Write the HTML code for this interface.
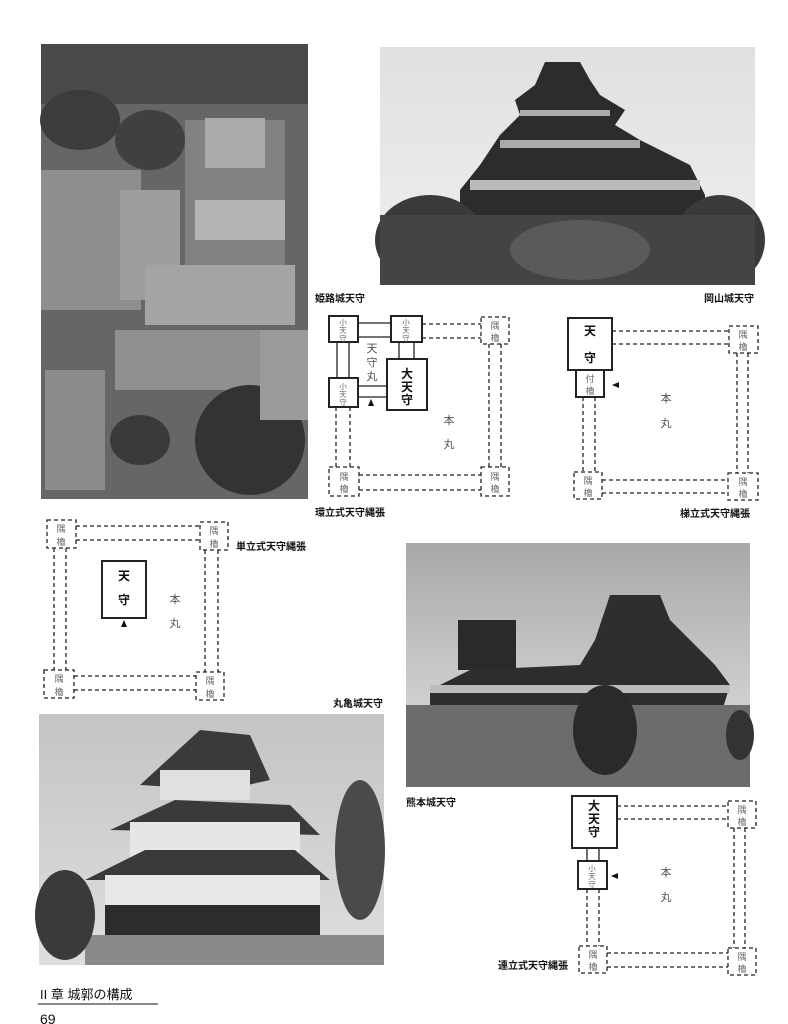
<!DOCTYPE html>
<html><head><meta charset="utf-8"><style>
html,body{margin:0;padding:0;background:#fff;}
svg{display:block}
text{font-family:"Liberation Sans","Noto Sans CJK JP",sans-serif;}
</style></head><body>
<svg width="788" height="1024" viewBox="0 0 788 1024" xmlns="http://www.w3.org/2000/svg">
<defs>
<linearGradient id="sky1" x1="0" y1="0" x2="0" y2="1"><stop offset="0" stop-color="#e0e0e0"/><stop offset="1" stop-color="#f0f0f0"/></linearGradient>
<linearGradient id="sky2" x1="0" y1="0" x2="0" y2="1"><stop offset="0" stop-color="#a8a8a8"/><stop offset="1" stop-color="#e4e4e4"/></linearGradient>
<linearGradient id="sky3" x1="0" y1="0" x2="0" y2="1"><stop offset="0" stop-color="#c4c4c4"/><stop offset="1" stop-color="#dedede"/></linearGradient>
</defs>

<!-- Aerial photo -->
<rect x="41" y="44" width="267" height="455" fill="#666"/>
<rect x="41" y="44" width="267" height="60" fill="#4a4a4a"/>
<rect x="41" y="170" width="100" height="140" fill="#8e8e8e"/>
<rect x="120" y="190" width="60" height="110" fill="#9e9e9e"/>
<rect x="185" y="120" width="100" height="200" fill="#828282"/>
<rect x="205" y="118" width="60" height="50" fill="#aaa"/>
<rect x="195" y="200" width="90" height="40" fill="#b4b4b4"/>
<rect x="145" y="265" width="150" height="60" fill="#a4a4a4"/>
<rect x="115" y="330" width="160" height="60" fill="#909090"/>
<rect x="45" y="370" width="60" height="120" fill="#8c8c8c"/>
<ellipse cx="250" cy="440" rx="55" ry="55" fill="#333"/>
<ellipse cx="140" cy="440" rx="30" ry="25" fill="#3a3a3a"/>
<ellipse cx="80" cy="120" rx="40" ry="30" fill="#3c3c3c"/>
<ellipse cx="150" cy="140" rx="35" ry="30" fill="#404040"/>
<rect x="260" y="330" width="48" height="90" fill="#9a9a9a"/>

<!-- Okayama photo -->
<rect x="380" y="47" width="375" height="238" fill="url(#sky1)"/>
<polygon points="545,62 580,62 590,80 600,95 625,110 615,125 640,140 690,165 705,195 705,215 460,215 460,190 480,165 500,135 520,115 515,100 535,85" fill="#2c2c2c"/>
<rect x="470" y="180" width="230" height="10" fill="#bbb"/>
<rect x="500" y="140" width="140" height="8" fill="#aaa"/>
<rect x="520" y="110" width="90" height="6" fill="#aaa"/>
<ellipse cx="430" cy="240" rx="55" ry="45" fill="#3a3a3a"/>
<ellipse cx="720" cy="240" rx="45" ry="45" fill="#3a3a3a"/>
<rect x="380" y="215" width="375" height="70" fill="#444"/>
<ellipse cx="580" cy="250" rx="70" ry="30" fill="#5a5a5a"/>

<!-- Kumamoto photo -->
<rect x="406" y="543" width="344" height="244" fill="url(#sky2)"/>
<polygon points="610,595 660,595 670,620 690,640 715,665 730,685 720,718 430,718 430,690 470,670 580,665 595,640" fill="#2e2e2e"/>
<rect x="458" y="620" width="58" height="50" fill="#2a2a2a"/>
<rect x="430" y="685" width="300" height="8" fill="#bbb"/>
<rect x="406" y="705" width="344" height="82" fill="#6c6c6c"/>
<ellipse cx="605" cy="730" rx="32" ry="45" fill="#2a2a2a"/>
<ellipse cx="740" cy="735" rx="14" ry="25" fill="#333"/>

<!-- Marugame photo -->
<rect x="39" y="714" width="345" height="251" fill="url(#sky3)"/>
<polygon points="140,785 200,730 250,735 270,780 225,790" fill="#3a3a3a"/>
<rect x="160" y="770" width="90" height="30" fill="#e0e0e0"/>
<polygon points="110,830 175,800 290,805 320,835" fill="#3a3a3a"/>
<rect x="130" y="822" width="170" height="38" fill="#e6e6e6"/>
<polygon points="85,880 145,850 295,850 330,880" fill="#3a3a3a"/>
<rect x="105" y="875" width="215" height="30" fill="#e8e8e8"/>
<rect x="105" y="905" width="215" height="35" fill="#2c2c2c"/>
<rect x="85" y="935" width="299" height="30" fill="#8a8a8a"/>
<ellipse cx="65" cy="915" rx="30" ry="45" fill="#3a3a3a"/>
<ellipse cx="360" cy="850" rx="25" ry="70" fill="#4a4a4a"/>

<g fill="none" stroke="#222" stroke-width="1.3">
<rect x="329" y="316" width="29" height="26" stroke-width="2"/>
<rect x="391" y="316" width="31" height="26" stroke-width="2"/>
<rect x="329" y="378" width="29" height="29" stroke-width="2"/>
<rect x="387" y="359" width="40" height="51" stroke-width="2"/>
<line x1="358" y1="323" x2="391" y2="323"/><line x1="358" y1="337" x2="391" y2="337"/>
<line x1="337" y1="342" x2="337" y2="378"/><line x1="349" y1="342" x2="349" y2="378"/>
<line x1="399" y1="342" x2="399" y2="359"/><line x1="414" y1="342" x2="414" y2="359"/>
<line x1="358" y1="386" x2="387" y2="386"/><line x1="358" y1="397" x2="387" y2="397"/>
<g stroke-dasharray="4,3">
<rect x="481" y="317" width="28" height="27"/>
<rect x="329" y="467" width="30" height="29"/>
<rect x="481" y="467" width="28" height="29"/>
<line x1="422" y1="324" x2="481" y2="324"/><line x1="422" y1="338" x2="481" y2="338"/>
<line x1="489" y1="344" x2="489" y2="467"/><line x1="501" y1="344" x2="501" y2="467"/>
<line x1="336" y1="407" x2="336" y2="467"/><line x1="350" y1="407" x2="350" y2="467"/>
<line x1="359" y1="475" x2="481" y2="475"/><line x1="359" y1="490" x2="481" y2="490"/>
</g>
<rect x="568" y="318" width="44" height="52" stroke-width="2"/>
<rect x="576" y="370" width="28" height="27" stroke-width="2"/>
<g stroke-dasharray="4,3">
<rect x="729" y="326" width="29" height="27"/>
<rect x="574" y="472" width="28" height="27"/>
<rect x="728" y="473" width="30" height="27"/>
<line x1="612" y1="331" x2="729" y2="331"/><line x1="612" y1="344" x2="729" y2="344"/>
<line x1="583" y1="397" x2="583" y2="472"/><line x1="595" y1="397" x2="595" y2="472"/>
<line x1="737" y1="353" x2="737" y2="473"/><line x1="748" y1="353" x2="748" y2="473"/>
<line x1="602" y1="480" x2="728" y2="480"/><line x1="602" y1="493" x2="728" y2="493"/>
</g>
<rect x="102" y="561" width="44" height="57" stroke-width="2"/>
<g stroke-dasharray="4,3">
<rect x="47" y="520" width="29" height="28"/>
<rect x="200" y="522" width="28" height="28"/>
<rect x="44" y="670" width="30" height="28"/>
<rect x="196" y="672" width="28" height="28"/>
<line x1="76" y1="526" x2="200" y2="526"/><line x1="76" y1="540" x2="200" y2="540"/>
<line x1="54" y1="548" x2="54" y2="670"/><line x1="66" y1="548" x2="66" y2="670"/>
<line x1="205" y1="550" x2="205" y2="672"/><line x1="218" y1="550" x2="218" y2="672"/>
<line x1="74" y1="676" x2="196" y2="676"/><line x1="74" y1="690" x2="196" y2="690"/>
</g>
<rect x="572" y="796" width="45" height="52" stroke-width="2"/>
<rect x="578" y="861" width="29" height="28" stroke-width="2"/>
<line x1="587" y1="848" x2="587" y2="861"/><line x1="599" y1="848" x2="599" y2="861"/>
<g stroke-dasharray="4,3">
<rect x="728" y="801" width="28" height="27"/>
<rect x="579" y="946" width="28" height="27"/>
<rect x="728" y="948" width="28" height="27"/>
<line x1="617" y1="806" x2="728" y2="806"/><line x1="617" y1="819" x2="728" y2="819"/>
<line x1="734" y1="828" x2="734" y2="948"/><line x1="745" y1="828" x2="745" y2="948"/>
<line x1="587" y1="889" x2="587" y2="946"/><line x1="599" y1="889" x2="599" y2="946"/>
<line x1="607" y1="953" x2="728" y2="953"/><line x1="607" y1="967" x2="728" y2="967"/>
</g>
</g>

<g fill="#111">
<polygon points="371,399 368,406 374,406"/>
<polygon points="612,385 619,382 619,388"/>
<polygon points="124,620 121,627 127,627"/>
<polygon points="611,876 618,873 618,879"/>
</g>

<g font-size="7.5" fill="#666" text-anchor="middle">
<text x="343" y="325">小</text><text x="343" y="333">天</text><text x="343" y="341">守</text>
<text x="406" y="325">小</text><text x="406" y="333">天</text><text x="406" y="341">守</text>
<text x="343" y="389">小</text><text x="343" y="397">天</text><text x="343" y="405">守</text>
<text x="592" y="871">小</text><text x="592" y="879">天</text><text x="592" y="887">守</text>
</g>
<g font-size="9" fill="#666" text-anchor="middle">
<text x="495" y="329">隅</text><text x="495" y="341">櫓</text>
<text x="344" y="480">隅</text><text x="344" y="492">櫓</text>
<text x="495" y="480">隅</text><text x="495" y="492">櫓</text>
<text x="590" y="382">付</text><text x="590" y="394">櫓</text>
<text x="743" y="338">隅</text><text x="743" y="350">櫓</text>
<text x="588" y="484">隅</text><text x="588" y="496">櫓</text>
<text x="743" y="485">隅</text><text x="743" y="497">櫓</text>
<text x="61" y="532">隅</text><text x="61" y="545">櫓</text>
<text x="214" y="534">隅</text><text x="214" y="547">櫓</text>
<text x="59" y="682">隅</text><text x="59" y="695">櫓</text>
<text x="210" y="684">隅</text><text x="210" y="697">櫓</text>
<text x="742" y="813">隅</text><text x="742" y="825">櫓</text>
<text x="593" y="958">隅</text><text x="593" y="970">櫓</text>
<text x="742" y="960">隅</text><text x="742" y="972">櫓</text>
</g>
<g font-size="12" fill="#111" text-anchor="middle" font-weight="bold">
<text x="407" y="378">大</text><text x="407" y="391">天</text><text x="407" y="404">守</text>
<text x="590" y="335">天</text><text x="590" y="362">守</text>
<text x="124" y="580">天</text><text x="124" y="604">守</text>
<text x="594" y="810">大</text><text x="594" y="823">天</text><text x="594" y="836">守</text>
</g>
<g font-size="11" fill="#555" text-anchor="middle">
<text x="372" y="352">天</text><text x="372" y="366">守</text><text x="372" y="380">丸</text>
<text x="449" y="424">本</text><text x="449" y="448">丸</text>
<text x="666" y="402">本</text><text x="666" y="427">丸</text>
<text x="175" y="603">本</text><text x="175" y="627">丸</text>
<text x="666" y="876">本</text><text x="666" y="901">丸</text>
</g>

<g font-size="10" fill="#111" font-weight="bold">
<text x="315" y="302">姫路城天守</text>
<text x="704" y="302">岡山城天守</text>
<text x="315" y="516">環立式天守縄張</text>
<text x="680" y="517">梯立式天守縄張</text>
<text x="236" y="550">単立式天守縄張</text>
<text x="333" y="707">丸亀城天守</text>
<text x="406" y="806">熊本城天守</text>
<text x="498" y="969">連立式天守縄張</text>
</g>

<text x="40" y="999" font-size="13" fill="#111" font-family="Liberation Serif,Noto Serif CJK SC,serif">II 章 城郭の構成</text>
<line x1="38" y1="1004" x2="158" y2="1004" stroke="#111" stroke-width="1"/>
<text x="40" y="1024" font-size="14" fill="#111" font-family="Liberation Serif,serif">69</text>
</svg>
</body></html>
